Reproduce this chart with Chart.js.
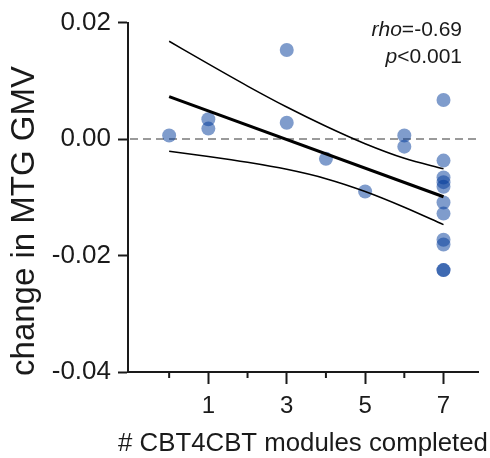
<!DOCTYPE html>
<html>
<head>
<meta charset="utf-8">
<script src="https://cdn.jsdelivr.net/npm/chart.js@4"></script>
<style>
  html, body { margin: 0; padding: 0; background: #fff; }
</style>
</head>
<body>
<canvas id="chart" width="490" height="458"></canvas>
<script>
// participants: modules completed vs change in MTG GMV
const modules = [0, 1, 1, 3, 3, 4, 5, 6, 6, 7, 7, 7, 7, 7, 7, 7, 7, 7, 7, 7];
const gmvChange = [0.0006, 0.0034, 0.0018, 0.0153, 0.0028, -0.0034, -0.0090, 0.0006, -0.0013,
  0.0067, -0.0037, -0.0066, -0.0074, -0.0082, -0.0109, -0.0128, -0.0173, -0.0181, -0.0225, -0.0225];

// fitted line and its confidence band
const fitX = [0, 7];
const fitY = [0.0073, -0.0099];
const bandX = [0, 1, 2, 3, 4, 5, 6, 7];
const bandUpper = [0.0168, 0.0129, 0.0091, 0.0055, 0.0022, -0.0008, -0.0033, -0.0051];
const bandLower = [-0.0021, -0.0030, -0.0040, -0.0052, -0.0068, -0.0090, -0.0117, -0.0147];

const yTicks = [0.02, 0, -0.02, -0.04];
const xTicks = [0, 1, 2, 3, 4, 5, 6, 7];
const xLabelled = [1, 3, 5, 7];

const rho = "-0.69";
const pValue = "<0.001";
const xTitle = "# CBT4CBT modules completed";
const yTitle = "change in MTG GMV";

const FONT = "'Liberation Sans', Arial, sans-serif";
const INK = "#1a1a1a";

function pairs(xs, ys) {
  return xs.map((x, i) => ({ x, y: ys[i] }));
}

const extras = {
  id: "extras",
  beforeDatasetsDraw(chart) {
    const { ctx, chartArea, scales } = chart;
    const y0 = scales.y.getPixelForValue(0);
    ctx.save();
    ctx.strokeStyle = "#7a7a7a";
    ctx.lineWidth = 1.5;
    ctx.setLineDash([8, 5]);
    ctx.beginPath();
    ctx.moveTo(chartArea.left + 2, y0);
    ctx.lineTo(chartArea.right + 2, y0);
    ctx.stroke();
    ctx.restore();
  },
  afterDraw(chart) {
    const { ctx, chartArea, scales } = chart;
    ctx.save();
    // short minor ticks on the x axis
    ctx.strokeStyle = INK;
    ctx.lineWidth = 2;
    xTicks.filter(v => !xLabelled.includes(v)).forEach(v => {
      const px = scales.x.getPixelForValue(v);
      ctx.beginPath();
      ctx.moveTo(px, chartArea.bottom);
      ctx.lineTo(px, chartArea.bottom + 6);
      ctx.stroke();
    });

    ctx.fillStyle = INK;
    ctx.textAlign = "center";
    ctx.textBaseline = "middle";

    // x axis title (wider than the axis, so drawn here)
    ctx.font = "25.8px " + FONT;
    ctx.fillText(xTitle, (chartArea.left + chartArea.right) / 2, 444);

    // y axis title
    ctx.font = "33px " + FONT;
    ctx.translate(25, 221);
    ctx.rotate(-Math.PI / 2);
    ctx.fillText(yTitle, 0, 0);
    ctx.setTransform(1, 0, 0, 1, 0, 0);

    // stats annotation
    const right = 462;
    ctx.textBaseline = "alphabetic";
    ctx.textAlign = "right";
    ctx.font = "21px " + FONT;
    const w1 = ctx.measureText("=" + rho).width;
    ctx.fillText("=" + rho, right, 36);
    const w2 = ctx.measureText(pValue).width;
    ctx.fillText(pValue, right, 63);
    ctx.font = "italic 21px " + FONT;
    ctx.fillText("rho", right - w1, 36);
    ctx.fillText("p", right - w2, 63);
    ctx.restore();
  }
};

new Chart(document.getElementById("chart"), {
  type: "scatter",
  data: {
    datasets: [
      {
        type: "line",
        data: pairs(fitX, fitY),
        borderColor: "#000",
        borderWidth: 3,
        pointRadius: 0,
        order: 0
      },
      {
        type: "line",
        data: pairs(bandX, bandUpper),
        borderColor: "#000",
        borderWidth: 1.5,
        pointRadius: 0,
        cubicInterpolationMode: "monotone",
        order: 0
      },
      {
        type: "line",
        data: pairs(bandX, bandLower),
        borderColor: "#000",
        borderWidth: 1.5,
        pointRadius: 0,
        cubicInterpolationMode: "monotone",
        order: 0
      },
      {
        data: pairs(modules, gmvChange),
        backgroundColor: "rgba(0, 57, 153, 0.5)",
        borderWidth: 0,
        pointRadius: 7,
        pointHoverRadius: 7,
        order: 1
      }
    ]
  },
  options: {
    responsive: false,
    animation: false,
    layout: { padding: { top: 22, right: 12, left: 0, bottom: 0 } },
    plugins: {
      legend: { display: false },
      tooltip: { enabled: false }
    },
    scales: {
      x: {
        type: "linear",
        min: -1.05,
        max: 7.88,
        afterBuildTicks: s => { s.ticks = xTicks.map(v => ({ value: v })); },
        afterFit: s => { s.height = 86; },
        border: { display: true, color: INK, width: 2 },
        grid: {
          drawOnChartArea: false,
          drawTicks: true,
          tickLength: 12,
          tickWidth: 2,
          tickColor: c => xLabelled.includes(c.tick && c.tick.value) ? INK : "rgba(0,0,0,0)"
        },
        ticks: {
          padding: 8,
          color: INK,
          font: { family: FONT, size: 24 },
          maxRotation: 0,
          autoSkip: false,
          callback: v => xLabelled.includes(v) ? String(v) : ""
        }
      },
      y: {
        min: -0.04,
        max: 0.02,
        afterBuildTicks: s => { s.ticks = yTicks.map(v => ({ value: v })); },
        afterFit: s => { s.width = 128; },
        border: { display: true, color: INK, width: 2 },
        grid: {
          drawOnChartArea: false,
          drawTicks: true,
          tickLength: 10,
          tickWidth: 2,
          tickColor: INK
        },
        ticks: {
          padding: 7,
          color: INK,
          font: { family: FONT, size: 26 },
          autoSkip: false,
          callback: v => v.toFixed(2)
        }
      }
    }
  },
  plugins: [extras]
});
</script>
</body>
</html>
